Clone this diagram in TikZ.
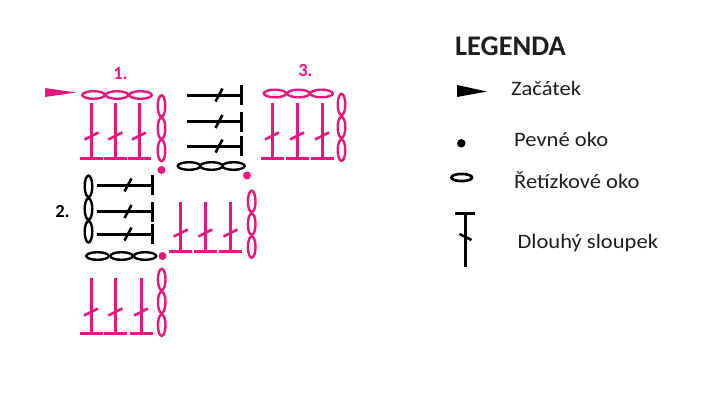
\documentclass[tikz,border=0pt]{standalone}
\usepackage{fontspec}
\setmainfont{Carlito}
\definecolor{pk}{RGB}{234,22,127}
\definecolor{tx}{RGB}{30,30,30}
\tikzset{
  st/.style={line width=3pt, line cap=butt},
  sl/.style={line width=2.6pt},
  ch/.style={line width=2.4pt},
  dotst/.style={fill=pk},
  numlbl/.style={font=\bfseries\fontsize{18.5}{18.5}\selectfont, inner sep=0},
  legtxt/.style={anchor=base west, inner sep=0, text=tx, font=\fontsize{20.5}{22}\selectfont},
}
% vertical long stitch: x, top, bottom, slash y, colour
\newcommand\dcUp[5]{%
  \draw[st,#5] (#1,#2) -- (#1,#3);
  \draw[st,#5] (#1-11.5,#3) -- (#1+11.5,#3);
  \draw[sl,#5] (#1-7,#4+3.5) -- (#1+7,#4-3.5);
}
% horizontal long stitch: y, left x, right x, slash x, colour
\newcommand\dcRight[5]{%
  \draw[st,#5] (#2,#1) -- (#3,#1);
  \draw[st,#5] (#3,#1-10) -- (#3,#1+10);
  \draw[sl,#5] (#4-3.5,#1+6.5) -- (#4+3.5,#1-6.5);
}
\newcommand\chH[3]{\draw[ch,#3] (#1,#2) ellipse [x radius=11.2pt, y radius=3.8pt];}
\newcommand\chV[3]{\draw[ch,#3] (#1,#2) ellipse [x radius=3.8pt, y radius=10.7pt];}
\begin{document}
\begin{tikzpicture}[x=1pt,y=-1pt]
\useasboundingbox (0,0) rectangle (710,400);

% ---------- block 1 (pink, top left)
\node[numlbl,text=pk] (n1) at (120.5,74) {1.};
\fill[pk] (45,88) -- (76,92.5) -- (45,97) -- cycle;
\chH{93.5}{95}{pk}\chH{117}{95}{pk}\chH{140.5}{95}{pk}
\dcUp{91.5}{103}{158.5}{136}{pk}
\dcUp{115.3}{103}{158.5}{136}{pk}
\dcUp{139}{103}{158.5}{136}{pk}
\chV{161.5}{106}{pk}\chV{161.5}{128.3}{pk}\chV{161.5}{150.5}{pk}
\fill[dotst] (161.5,170) circle [radius=4pt];

% ---------- black block (top middle)
\dcRight{95}{187}{241.5}{219}{black}
\dcRight{121.5}{187}{241.5}{219}{black}
\dcRight{146}{187}{241.5}{219}{black}
\chH{189}{166}{black}\chH{211.5}{166}{black}\chH{233.5}{166}{black}
\fill[dotst] (247,175.5) circle [radius=4pt];

% ---------- block 3 (pink, top right)
\node[numlbl,text=pk] (n3) at (305.5,70) {3.};
\chH{275}{93.5}{pk}\chH{298.5}{93.5}{pk}\chH{321.5}{93.5}{pk}
\dcUp{272}{103}{158.5}{136}{pk}
\dcUp{297}{103}{158.5}{136}{pk}
\dcUp{322}{103}{158.5}{136}{pk}
\chV{341.5}{104.5}{pk}\chV{341.5}{127.3}{pk}\chV{341.5}{150.2}{pk}

% ---------- block 2 (black, left)
\node[numlbl,text=black] (n2) at (62.5,211.5) {2.};
\chV{88.5}{186.3}{black}\chV{88.5}{209}{black}\chV{88.5}{231.7}{black}
\dcRight{185}{96.5}{152.5}{128}{black}
\dcRight{211.5}{96.5}{152.5}{128}{black}
\dcRight{234}{96.5}{152.5}{128}{black}
\chH{97.5}{256}{black}\chH{121.5}{256}{black}\chH{145}{256}{black}
\fill[dotst] (162.5,256) circle [radius=4pt];

% ---------- pink block (middle)
\dcUp{180.7}{201.7}{251.7}{233}{pk}
\dcUp{205.3}{201.7}{251.7}{233}{pk}
\dcUp{230.5}{201.7}{251.7}{233}{pk}
\chV{251.7}{201.4}{pk}\chV{251.7}{224.2}{pk}\chV{251.7}{247}{pk}

% ---------- pink block (bottom left)
\dcUp{91}{278}{333}{312}{pk}
\dcUp{115.3}{278}{333}{312}{pk}
\dcUp{141}{278}{333}{312}{pk}
\chV{161.7}{279.5}{pk}\chV{161.7}{302.3}{pk}\chV{161.7}{325.2}{pk}

% ---------- legend
\node[anchor=base west, inner sep=0, text=tx, font=\bfseries\fontsize{28.4}{30}\selectfont] (leg) at (455,55) {LEGENDA};
\fill[black] (457,85) -- (487,91.5) -- (457,97) -- cycle;
\node[legtxt] (l1) at (511,95) {\scalebox{1.1}[1]{Začátek}};
\fill[black] (461.3,143.3) circle [radius=4.2pt];
\node[legtxt] (l2) at (514,146.7) {\scalebox{1.1}[1]{Pevné oko}};
\draw[line width=2.7pt] (461.7,177.5) ellipse [x radius=10.3pt, y radius=3.6pt];
\node[legtxt] (l3) at (514,188.3) {\scalebox{1.1}[1]{Řetízkové oko}};
\draw[st] (455,213.5) -- (475,213.5);
\draw[st] (465,213.5) -- (465,267);
\draw[sl] (459.5,234) -- (471.5,240);
\node[legtxt] (l4) at (517.3,248.3) {\scalebox{1.1}[1]{Dlouhý sloupek}};
\end{tikzpicture}
\end{document}
